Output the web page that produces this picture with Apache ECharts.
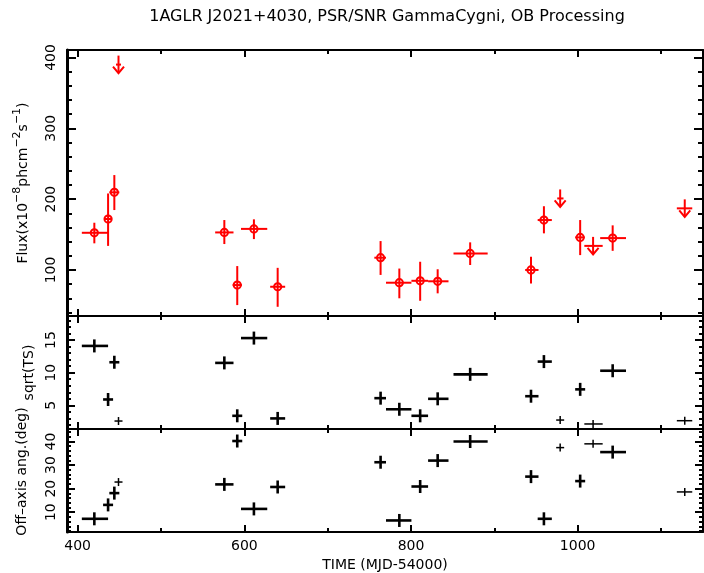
<!DOCTYPE html>
<html>
<head>
<meta charset="utf-8">
<script src="https://cdn.jsdelivr.net/npm/echarts@6/dist/echarts.min.js"></script>
<style>html,body{margin:0;padding:0;background:#fff}#c{width:704px;height:573px}</style>
</head>
<body>
<div id="c"></div>
<script>
// ---------- data ----------
const binTime  = [420, 436.5, 444, 449, 576, 591.5, 611.5, 640, 763.5, 786, 811, 832, 871, 944, 959.5, 979, 1003, 1018.5, 1042, 1128.5];
const binStart = [405, 432.5, 438, 446, 565, 586, 596, 631, 756, 770, 800.5, 820.5, 851, 937, 952, 975.5, 997, 1008, 1027, 1119];
const binEnd   = [436.5, 440.5, 450, 452, 587, 597, 627.5, 649, 770, 800.5, 820.5, 845, 892, 953, 969, 983, 1008.5, 1030, 1058, 1137.5];
const flux     = [152.5, 172, 209.6, null, 153, 78.7, 158, 76.3, 117.3, 82, 84.7, 84, 123.4, 100, 170.5, null, 146, null, 145, null];
const fluxLow  = [137.6, 134, 184.6, null, 136.6, 50.4, 143.6, 48, 93, 60, 56.5, 67, 107, 81, 151.7, null, 121, null, 127, null];
const fluxHigh = [166.7, 208, 234, null, 170.5, 105.5, 171.5, 103, 140.8, 102, 111.6, 101, 139, 118.6, 190, null, 170.5, null, 163, null];
const fluxUpperLimit = [null, null, null, 390, null, null, null, null, null, null, null, null, null, null, null, 201, null, 134, null, 187];
const sqrtTS   = [14.1, 5.9, 11.6, 2.6, 11.5, 3.4, 15.3, 3.0, 6.1, 4.4, 3.4, 6.0, 9.75, 6.4, 11.7, 2.75, 7.45, 2.15, 10.3, 2.65];
const offAxis  = [7.2, 13.1, 18.1, 22.8, 21.8, 40.2, 11.4, 20.7, 31.2, 6.5, 20.9, 31.9, 40, 25.1, 7.2, 37.4, 23.2, 39, 35.5, 18.6];

const xMajorTicks = [400, 600, 800, 1000];
const xMinorTicks = [500, 700, 900, 1100];
const xTickLabels = [400, 600, 800, 1000];
const fluxMajor = [100, 200, 300, 400];
const fluxMinor = [40, 60, 80, 120, 140, 160, 180, 220, 240, 260, 280, 320, 340, 360, 380];
const tsMajor = [5, 10, 15];
const tsMinor = [2, 3, 4, 6, 7, 8, 9, 11, 12, 13, 14, 16, 17, 18];
const angMajor = [10, 20, 30, 40];
const angMinor = [2, 4, 6, 8, 12, 14, 16, 18, 22, 24, 26, 28, 32, 34, 36, 38, 42, 44];

const titleText = '1AGLR J2021+4030, PSR/SNR GammaCygni, OB Processing';
const xName = 'TIME (MJD-54000)';

// ---------- layout / style ----------
const FONT = 'DejaVu Sans';
const RED = '#ff0000';
const BLACK = '#000000';
const X_MIN = 387.2, X_MAX = 1150.4;
const grids = [
  {left: 67, right: 1, top: 50, height: 266},
  {left: 67, right: 1, top: 316, height: 113},
  {left: 67, right: 1, top: 429, height: 104}
];
const yRanges = [[35, 410.6], [1.38, 18.68], [1.6, 45.3]];
const yMajors = [fluxMajor, tsMajor, angMajor];
const yMinors = [fluxMinor, tsMinor, angMinor];
const yMajorLen = [9, 8, 8];
const yMinorLen = [5, 4, 4];
const plain = v => String(v);

const xAxes = [];
const yAxes = [];
grids.forEach((g, gi) => {
  const baseX = {type: 'value', gridIndex: gi, min: X_MIN, max: X_MAX, splitLine: {show: false}};
  const isLast = gi === grids.length - 1;
  ['bottom', 'top'].forEach(pos => {
    xAxes.push(Object.assign({}, baseX, {
      position: pos,
      axisLine: {show: true, onZero: false, lineStyle: {color: BLACK, width: 2}},
      axisTick: {show: true, inside: true, length: 7, customValues: xMajorTicks, lineStyle: {color: BLACK, width: 2}},
      axisLabel: (isLast && pos === 'bottom') ? {show: true, customValues: xTickLabels, formatter: plain, color: BLACK, fontFamily: FONT, fontSize: 14, margin: 7} : {show: false},
      name: (isLast && pos === 'bottom') ? xName : '',
      nameLocation: 'middle', nameGap: 26,
      nameTextStyle: {color: BLACK, fontFamily: FONT, fontSize: 14}
    }));
    xAxes.push(Object.assign({}, baseX, {
      position: pos,
      axisLine: {show: false, onZero: false},
      axisTick: {show: true, inside: true, length: 4, customValues: xMinorTicks, lineStyle: {color: BLACK, width: 2}},
      axisLabel: {show: false}
    }));
  });
  const baseY = {type: 'value', gridIndex: gi, min: yRanges[gi][0], max: yRanges[gi][1], splitLine: {show: false}};
  ['left', 'right'].forEach(pos => {
    yAxes.push(Object.assign({}, baseY, {
      position: pos,
      axisLine: {show: true, onZero: false, lineStyle: {color: BLACK, width: pos === 'left' ? 3 : 2}},
      axisTick: {show: true, inside: true, length: yMajorLen[gi], customValues: yMajors[gi], lineStyle: {color: BLACK, width: 2}},
      axisLabel: pos === 'left' ? {show: true, customValues: yMajors[gi], formatter: plain, rotate: 90, color: BLACK, fontFamily: FONT, fontSize: 14, margin: 9} : {show: false}
    }));
    yAxes.push(Object.assign({}, baseY, {
      position: pos,
      axisLine: {show: false, onZero: false},
      axisTick: {show: true, inside: true, length: yMinorLen[gi], customValues: yMinors[gi], lineStyle: {color: BLACK, width: 2}},
      axisLabel: {show: false}
    }));
  });
});
// names on main left axes
yAxes[0].name = 'Flux(x10{s|−8}phcm{s|−2}s{s|−1})';
yAxes[0].nameLocation = 'middle';
yAxes[0].nameRotate = 90;
yAxes[0].nameGap = 32;
yAxes[0].nameTextStyle = {color: BLACK, fontFamily: FONT, fontSize: 14,
  rich: {s: {fontFamily: FONT, fontSize: 11, color: BLACK, padding: [0, 0, 12, 0]}}};
yAxes[4].name = 'sqrt(TS)';
yAxes[4].nameLocation = 'middle';
yAxes[4].nameRotate = 90;
yAxes[4].nameGap = 28;
yAxes[4].nameTextStyle = {color: BLACK, fontFamily: FONT, fontSize: 14};
yAxes[8].name = 'Off\u2013axis ang.(deg)';
yAxes[8].nameLocation = 'middle';
yAxes[8].nameRotate = 90;
yAxes[8].nameGap = 38;
yAxes[8].nameTextStyle = {color: BLACK, fontFamily: FONT, fontSize: 14, padding: [0, 0, 0, 18]};

// ---------- series data built from arrays ----------
const fluxPoints = [], ulPoints = [], tsPoints = [], angPoints = [];
binTime.forEach((t, i) => {
  if (flux[i] != null) fluxPoints.push([t, binStart[i], binEnd[i], flux[i], fluxLow[i], fluxHigh[i]]);
  if (fluxUpperLimit[i] != null) ulPoints.push([t, binStart[i], binEnd[i], fluxUpperLimit[i]]);
  const ul = fluxUpperLimit[i] != null ? 1 : 0;
  tsPoints.push([t, binStart[i], binEnd[i], sqrtTS[i], ul]);
  angPoints.push([t, binStart[i], binEnd[i], offAxis[i], ul]);
});

function renderFlux(params, api) {
  const t = api.value(0), v = api.value(3);
  const c = api.coord([t, v]);
  const xl = api.coord([api.value(1), v])[0];
  const xr = api.coord([api.value(2), v])[0];
  const ylo = api.coord([t, api.value(4)])[1];
  const yhi = api.coord([t, api.value(5)])[1];
  const st = {stroke: RED, lineWidth: 2, fill: null};
  return {type: 'group', children: [
    {type: 'line', shape: {x1: xl, y1: c[1], x2: xr, y2: c[1]}, style: st},
    {type: 'line', shape: {x1: c[0], y1: yhi, x2: c[0], y2: ylo}, style: st},
    {type: 'circle', shape: {cx: c[0], cy: c[1], r: 3.6}, style: {stroke: RED, lineWidth: 2, fill: 'rgba(0,0,0,0)'}}
  ]};
}
function renderUL(params, api) {
  const t = api.value(0), v = api.value(3);
  const c = api.coord([t, v]);
  const xl = api.coord([api.value(1), v])[0];
  const xr = api.coord([api.value(2), v])[0];
  const st = {stroke: RED, lineWidth: 2, fill: null};
  return {type: 'group', children: [
    {type: 'line', shape: {x1: xl, y1: c[1], x2: xr, y2: c[1]}, style: st},
    {type: 'line', shape: {x1: c[0], y1: c[1] - 9, x2: c[0], y2: c[1] + 8.5}, style: st},
    {type: 'polyline', shape: {points: [[c[0] - 5.5, c[1] + 2], [c[0], c[1] + 8.5], [c[0] + 5.5, c[1] + 2]]}, style: st}
  ]};
}
function renderCross(params, api) {
  const t = api.value(0), v = api.value(3), ul = api.value(4);
  const c = api.coord([t, v]);
  let xl = api.coord([api.value(1), v])[0];
  let xr = api.coord([api.value(2), v])[0];
  const minHalf = ul ? 4 : 5;
  xl = Math.min(xl, c[0] - minHalf);
  xr = Math.max(xr, c[0] + minHalf);
  const h = ul ? 4 : 6.5;
  const st = {stroke: BLACK, lineWidth: ul ? 1.5 : 2.6, fill: null};
  return {type: 'group', children: [
    {type: 'line', shape: {x1: xl, y1: c[1], x2: xr, y2: c[1]}, style: st},
    {type: 'line', shape: {x1: c[0], y1: c[1] - h, x2: c[0], y2: c[1] + h}, style: st}
  ]};
}

const option = {
  backgroundColor: '#ffffff',
  animation: false,
  title: {text: titleText, left: 387, top: 9, textAlign: 'center', padding: 0,
    textStyle: {fontFamily: FONT, fontSize: 16, fontWeight: 'normal', color: BLACK}},
  grid: grids,
  xAxis: xAxes,
  yAxis: yAxes,
  series: [
    {type: 'custom', name: 'Flux', xAxisIndex: 0, yAxisIndex: 0, data: fluxPoints, renderItem: renderFlux, encode: {x: 0, y: 3}},
    {type: 'custom', name: 'Upper limit', xAxisIndex: 0, yAxisIndex: 0, data: ulPoints, renderItem: renderUL, encode: {x: 0, y: 3}},
    {type: 'custom', name: 'sqrt(TS)', xAxisIndex: 4, yAxisIndex: 4, data: tsPoints, renderItem: renderCross, encode: {x: 0, y: 3}},
    {type: 'custom', name: 'Off-axis angle', xAxisIndex: 8, yAxisIndex: 8, data: angPoints, renderItem: renderCross, encode: {x: 0, y: 3}}
  ]
};
const chart = echarts.init(document.getElementById('c'), null, {renderer: 'canvas'});
chart.setOption(option);
</script>
</body>
</html>
